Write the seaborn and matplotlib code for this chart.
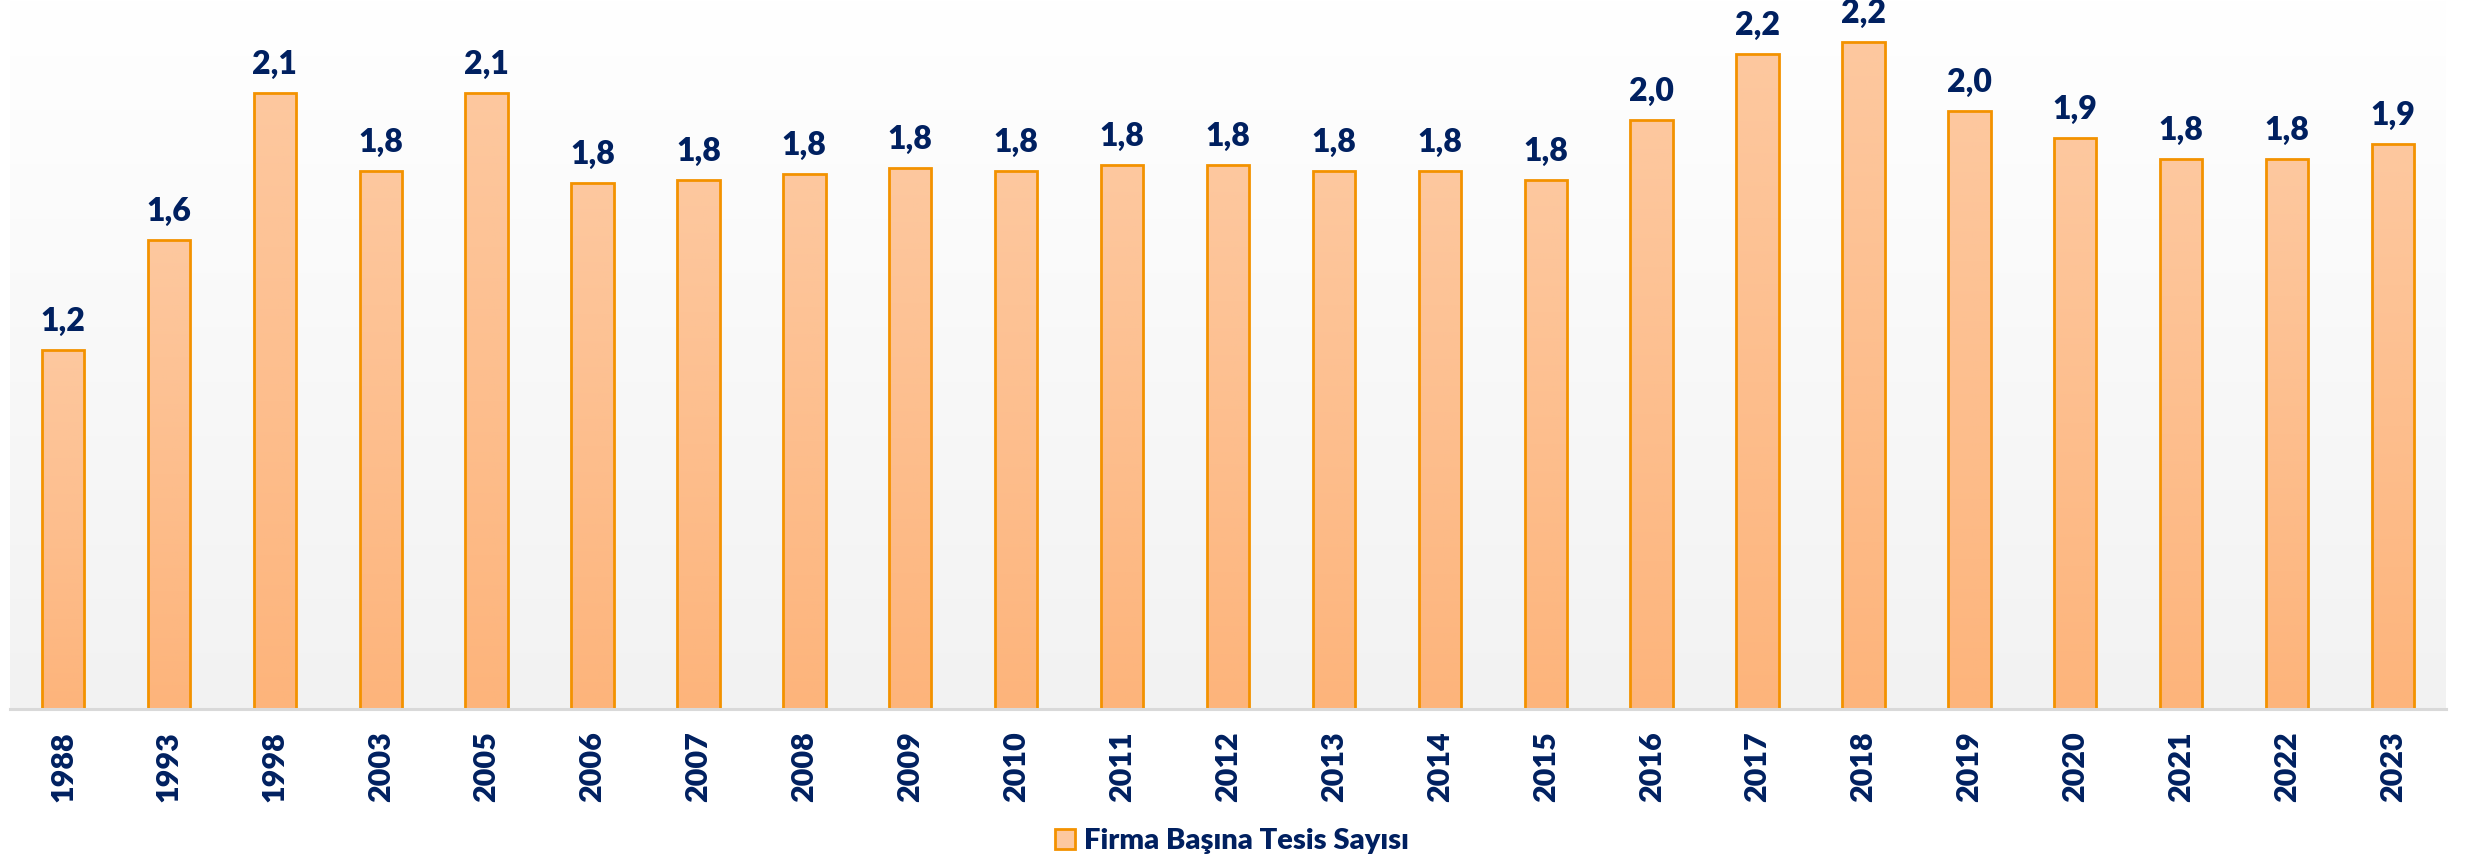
import numpy as np
import pandas as pd
import matplotlib
matplotlib.use("Agg")
import matplotlib.pyplot as plt
import seaborn as sns
from matplotlib.patches import Patch
from matplotlib.colors import LinearSegmentedColormap

years = ["1988", "1993", "1998", "2003", "2005", "2006", "2007", "2008", "2009",
         "2010", "2011", "2012", "2013", "2014", "2015", "2016", "2017", "2018",
         "2019", "2020", "2021", "2022", "2023"]
values = [1.20, 1.57, 2.06, 1.80, 2.06, 1.76, 1.77, 1.79, 1.81,
          1.80, 1.82, 1.82, 1.80, 1.80, 1.77, 1.97, 2.19, 2.23,
          2.00, 1.91, 1.84, 1.84, 1.89]
series_name = "Firma Başına Tesis Sayısı"

NAVY = "#002060"
EDGE = "#f39200"
FILL_TOP = "#fdc89f"
FILL_BOT = "#fdb47b"

sns.set_theme(style="white")
plt.rcParams["font.family"] = ["Lato", "DejaVu Sans"]

W, H = 2473, 861
fig = plt.figure(figsize=(W / 100, H / 100), dpi=100)
fig.patch.set_facecolor("white")
left, right, top, base = 10, 2446, 0, 709
ax = fig.add_axes([left / W, (H - base) / H, (right - left) / W, (base - top) / H])

df = pd.DataFrame({"year": years, "value": values})
sns.barplot(data=df, x="year", y="value", color=FILL_BOT, width=0.40,
            edgecolor=EDGE, linewidth=2.0, ax=ax, zorder=3)

ymax = (base - top) / 299.0
ax.set_xlim(-0.5, len(years) - 0.5)
ax.set_ylim(0, ymax)

# background gradient (white top -> light gray bottom)
bg_cmap = LinearSegmentedColormap.from_list("bg", ["#f2f2f2", "#ffffff"])
grad = np.linspace(0, 1, 256).reshape(-1, 1)
ax.imshow(grad, cmap=bg_cmap, aspect="auto", origin="lower",
          extent=[-0.5, len(years) - 0.5, 0, ymax], zorder=0)

# bar gradient fill
bar_cmap = LinearSegmentedColormap.from_list("bar", [FILL_BOT, FILL_TOP])
for p in ax.patches:
    x0, y0 = p.get_x(), p.get_y()
    w, h = p.get_width(), p.get_height()
    im = ax.imshow(grad, cmap=bar_cmap, aspect="auto", origin="lower",
                   extent=[x0, x0 + w, y0, y0 + h], zorder=2)
    im.set_clip_path(p)
    p.set_facecolor("none")
ax.set_xlim(-0.5, len(years) - 0.5)
ax.set_ylim(0, ymax)

labels = [f"{v:.1f}".replace(".", ",") for v in values]
ax.bar_label(ax.containers[0], labels=labels, padding=10, fontsize=23,
             fontweight="heavy", color=NAVY)

for s in ["top", "left", "right"]:
    ax.spines[s].set_visible(False)
ax.spines["bottom"].set_color("#d9d9d9")
ax.spines["bottom"].set_linewidth(2.2)
ax.spines["bottom"].set_zorder(4)
ax.set_yticks([])
ax.set_xlabel("")
ax.set_ylabel("")
ax.tick_params(axis="x", length=0, pad=16, labelsize=22, labelcolor=NAVY,
               rotation=90)
for t in ax.get_xticklabels():
    t.set_fontweight("heavy")

handle = Patch(facecolor=FILL_TOP, edgecolor=EDGE, linewidth=2.0)
fig.legend([handle], [series_name], loc="center",
           bbox_to_anchor=(1232 / W, 1 - 841 / H), frameon=False,
           prop={"size": 21, "weight": "heavy"}, labelcolor=NAVY,
           handlelength=0.7, handleheight=0.7, handletextpad=0.3)

fig.savefig("out.png", dpi=100)
